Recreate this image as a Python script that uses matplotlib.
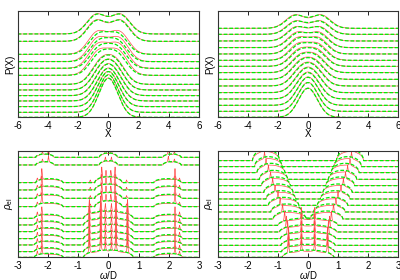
import numpy as np
import matplotlib
matplotlib.use('Agg')
import matplotlib.pyplot as plt

plt.rcParams['font.family'] = ['Liberation Sans', 'DejaVu Sans']
plt.rcParams['axes.unicode_minus'] = False
plt.rcParams['mathtext.fontset'] = 'custom'
plt.rcParams['mathtext.rm'] = 'Liberation Sans'
plt.rcParams['mathtext.it'] = 'Liberation Sans:italic'

RED = '#ff4a4a'
GREEN = '#00ee00'

# ---- top left: P(X), offsets / peak heights / peak splitting
TL_base = [250, 228, 189, 167, 147, 126, 99, 82, 65, 49, 32, 15, 0]
TL_height = [60, 64, 68, 72, 75, 79, 88, 92, 95, 98, 105, 112, 117]
TL_split = [0.78, 0.77, 0.65, 0.62, 0.6, 0.58, 0.5, 0.45, 0.4, 0.33, 0.25, 0.15, 0.0]
TL_red_height = [61, 65, 72, 76, 79, 82, 90, 93, 96, 99, 106, 113, 118]
TL_red_split = [0.8, 0.8, 0.72, 0.7, 0.68, 0.65, 0.52, 0.47, 0.42, 0.35, 0.27, 0.16, 0.0]

# ---- top right: P(X)
TR_base = [267, 249, 229, 209, 190, 171, 153, 134, 114, 94, 74, 55, 36, 18, 0]
TR_height = [40, 40, 43, 46, 50, 53, 56, 60, 65, 70, 75, 79, 84, 86, 87]
TR_split = [0.82, 0.78, 0.74, 0.7, 0.66, 0.62, 0.58, 0.54, 0.5, 0.45, 0.4, 0.33, 0.25, 0.15, 0.0]
TR_red_height = [41, 41, 44, 48, 52, 55, 58, 62, 67, 72, 77, 81, 85, 87, 88]

# ---- bottom left: rho_el, three groups of rows
BL_base = [300, 277, 224, 202, 177, 152, 117, 97, 77, 56, 37, 17, 0]
BL_group = [0, 0, 1, 1, 1, 1, 2, 2, 2, 2, 2, 2, 2]
BL_center_w = [0.3, 0.45, 0.82]        # half width of the central band
BL_center_h = [13, 18, 22]
BL_side_lo = [1.8, 1.5, 1.5]           # side bands
BL_side_hi = [2.4, 2.4, 2.45]
BL_side_h = [10, 12, 12]
# sharp peaks (position, height) of the red curves, mirrored at +-x
BL_peaks = [
    [(0.1, 14), (1.98, 19), (2.18, 10)],
    [(0.08, 22), (0.22, 34), (0.6, 8), (2.2, 34), (2.35, 9)],
    [(0.1, 26), (0.25, 50), (0.63, 45), (2.2, 26), (2.35, 13)],
]

# ---- bottom right: rho_el, gap opening from bottom to top
BR_base = [290, 272, 254, 234, 215, 195, 175, 156, 136, 115, 96, 76, 56, 36, 17, 0]
BR_in = [0.95, 0.86, 0.77, 0.68, 0.59, 0.5, 0.41, 0.31, 0.19, 0.06, 0, 0, 0, 0, 0, 0]
BR_out = [1.85, 1.78, 1.7, 1.62, 1.55, 1.47, 1.4, 1.32, 1.24, 1.16, 1.0, 0.95, 0.92, 0.9, 0.88, 0.86]
BR_h = [34, 30, 28, 27, 26, 25, 25, 24, 24, 24, 22, 22, 22, 22, 22, 22]
BR_spike = [1.5, 1.45, 1.4, 1.32, 1.25, 1.18, 1.1, 1.0, 0.93, 0.85, 0.78, 0.72, 0.68, 0.65, 0.65, 0.65]
BR_spike_h = [18, 20, 20, 22, 22, 24, 24, 26, 26, 28, 32, 36, 40, 42, 42, 42]


def pdist(x, x0, h, s=0.63):
    y = np.exp(-(x - x0) ** 2 / (2 * s * s)) + np.exp(-(x + x0) ** 2 / (2 * s * s))
    return h * y / y.max()


def arch(x, lo, hi, h):
    c = 0.5 * (lo + hi)
    w = 0.5 * (hi - lo)
    u = np.clip(1 - ((x - c) / w) ** 2, 0, None)
    return h * np.sqrt(u)


def lor(x, x0, h, g=0.015):
    return h * g * g / ((x - x0) ** 2 + g * g)


def style(ax, xmax, xlabel, ylabel):
    ax.set_xlim(-xmax, xmax)
    ax.set_ylim(0, 320)
    ax.set_xticks(np.arange(-xmax, xmax + 1, 2 if xmax == 6 else 1))
    ax.tick_params(direction='in', top=True, left=False, labelleft=False,
                   length=3, width=0.6, labelsize=7, pad=2.5)
    for sp in ax.spines.values():
        sp.set_linewidth(0.8)
        sp.set_color('#333333')
    ax.set_xlabel(xlabel, fontsize=7, labelpad=-1)
    ax.set_ylabel(ylabel, fontsize=7, labelpad=2)


def draw(ax, x, red, green, base):
    ax.plot(x, base + red, color=RED, lw=0.5)
    ax.plot(x, base + green, color=GREEN, lw=0.9, dashes=(3, 1.5))


fig = plt.figure(figsize=(4, 2.8), dpi=100)
ax_tl = fig.add_axes([0.044, 0.581, 0.454, 0.381])
ax_tr = fig.add_axes([0.545, 0.581, 0.450, 0.381])
ax_bl = fig.add_axes([0.044, 0.081, 0.454, 0.381])
ax_br = fig.add_axes([0.545, 0.081, 0.450, 0.381])

xp = np.linspace(-6, 6, 1201)
for b, h, s, rh, rs in zip(TL_base, TL_height, TL_split, TL_red_height, TL_red_split):
    draw(ax_tl, xp, pdist(xp, rs, rh), pdist(xp, s, h), b)
for b, h, s, rh in zip(TR_base, TR_height, TR_split, TR_red_height):
    draw(ax_tr, xp, pdist(xp, s * 1.05, rh), pdist(xp, s, h), b)

xw = np.linspace(-3, 3, 3001)
for b, g in zip(BL_base, BL_group):
    green = arch(xw, -BL_center_w[g], BL_center_w[g], BL_center_h[g])
    green += arch(xw, -BL_side_hi[g], -BL_side_lo[g], BL_side_h[g])
    green += arch(xw, BL_side_lo[g], BL_side_hi[g], BL_side_h[g])
    red = 0.8 * green
    for p, ph in BL_peaks[g]:
        red += lor(xw, p, ph) + lor(xw, -p, ph)
    draw(ax_bl, xw, red, green, b)

for i, b in enumerate(BR_base):
    if BR_in[i] > 0:
        green = arch(xw, BR_in[i], BR_out[i], BR_h[i]) + arch(xw, -BR_out[i], -BR_in[i], BR_h[i])
    else:
        green = arch(xw, -BR_out[i], BR_out[i], BR_h[i])
    red = 0.8 * green
    red += lor(xw, BR_spike[i], BR_spike_h[i]) + lor(xw, -BR_spike[i], BR_spike_h[i])
    if BR_in[i] == 0:
        red += lor(xw, 0.22, 36) + lor(xw, -0.22, 36)
    draw(ax_br, xw, red, green, b)

style(ax_tl, 6, 'X', 'P(X)')
style(ax_tr, 6, 'X', 'P(X)')
style(ax_bl, 3, r'$\omega$/D', r'$\rho_{\rm el}$')
style(ax_br, 3, r'$\omega$/D', r'$\rho_{\rm el}$')

fig.savefig('out.png', dpi=100)
